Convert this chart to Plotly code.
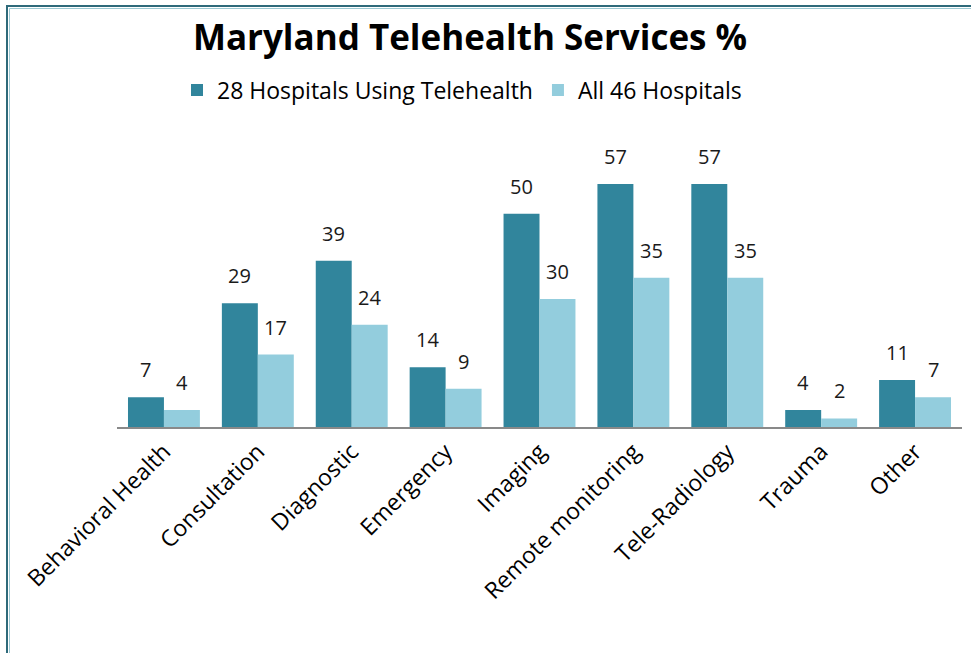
import plotly.graph_objects as go

categories = ["Behavioral Health", "Consultation", "Diagnostic", "Emergency", "Imaging",
              "Remote monitoring", "Tele-Radiology", "Trauma", "Other"]
using_telehealth = [7, 29, 39, 14, 50, 57, 57, 4, 11]
all_hospitals = [4, 17, 24, 9, 30, 35, 35, 2, 7]
series_names = ["28 Hospitals Using Telehealth", "All 46 Hospitals"]

W, H = 971, 653
ref_left, ref_right, ref_zero, ref_top = 117, 962, 427, 150
L = ref_left
T = ref_top
R = W - ref_right
B = H - ref_zero
pw, ph = W - L - R, H - T - B

def px(x):
    return (x - L) / pw

def py(y):
    return (H - B - y) / ph

FONT = "Open Sans"
COLORS = ["#31859C", "#93CDDD"]
fig = go.Figure()
for name, vals, col in zip(series_names, [using_telehealth, all_hospitals], COLORS):
    fig.add_trace(go.Bar(x=categories, y=vals, name=name,
                         marker=dict(color=col, line=dict(width=0))))

bargap = 0.234
bw_px = pw / len(categories) * (1 - bargap) / 2
annotations = []
for vals, sign in [(using_telehealth, -1), (all_hospitals, 1)]:
    for c, v in zip(categories, vals):
        annotations.append(dict(x=c, y=v, xref="x", yref="y", text=str(v), showarrow=False,
                                xshift=sign * bw_px / 2, yshift=12, yanchor="bottom",
                                font=dict(size=20, color="#1a1a1a", family=FONT)))

fig.update_layout(
    width=W, height=H,
    margin=dict(l=L, r=R, t=T, b=B, autoexpand=False),
    paper_bgcolor="white", plot_bgcolor="white",
    barmode="group", bargap=bargap, bargroupgap=0,
    title=dict(text="<b>Maryland Telehealth Services %</b>", x=470 / W, xanchor="center",
               y=1 - 38 / H, yanchor="middle", font=dict(size=35, color="black", family=FONT)),
    legend=dict(orientation="h", x=px(462), xanchor="center", y=py(90), yanchor="middle",
                font=dict(size=23, color="black", family=FONT), itemwidth=30,
                traceorder="normal", bgcolor="rgba(0,0,0,0)"),
    font=dict(family=FONT),
    xaxis=dict(tickangle=-45, tickfont=dict(size=23, color="black", family=FONT),
               showline=True, linecolor="#898989", linewidth=2, ticks="", showgrid=False,
               automargin=False),
    yaxis=dict(range=[0, (ref_zero - ref_top) / (ref_zero - 184) * 57], visible=False,
               showgrid=False, zeroline=False),
    annotations=annotations,
    shapes=[
        dict(type="rect", xref="paper", yref="paper", x0=px(7), x1=px(1000), y0=py(720), y1=py(6),
             line=dict(color="#2E6A7A", width=2), fillcolor="rgba(0,0,0,0)", layer="above"),
        dict(type="rect", xref="paper", yref="paper", x0=px(9.5), x1=px(1000), y0=py(720), y1=py(8.5),
             line=dict(color="#9CC9D3", width=1), fillcolor="rgba(0,0,0,0)", layer="above"),
    ],
)

fig.write_html("out.html", config={"displayModeBar": False},
               post_script="document.body.style.margin='0';document.body.style.overflow='hidden';")
